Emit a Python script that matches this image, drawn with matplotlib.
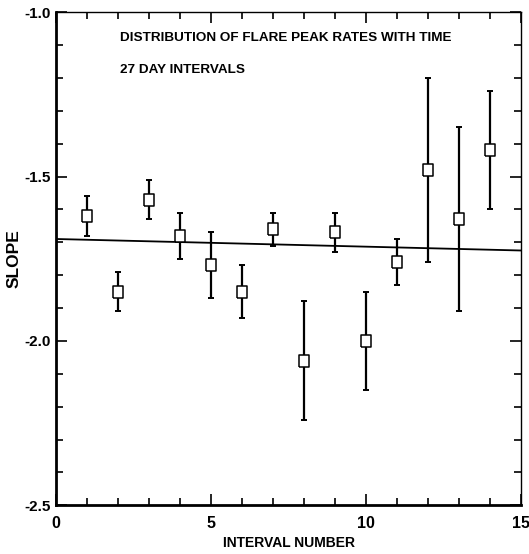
import matplotlib
matplotlib.use("Agg")
import matplotlib.pyplot as plt
import numpy as np
from matplotlib.ticker import MultipleLocator

# slope per 27-day interval with its error
interval = [1, 2, 3, 4, 5, 6, 7, 8, 9, 10, 11, 12, 13, 14]
slope = [-1.62, -1.85, -1.57, -1.68, -1.77, -1.85, -1.66, -2.06, -1.67, -2.00, -1.76, -1.48, -1.63, -1.42]
err = [0.06, 0.06, 0.06, 0.07, 0.10, 0.08, 0.05, 0.18, 0.06, 0.15, 0.07, 0.28, 0.28, 0.18]

# straight-line fit across the full range
fit_x = [0, 15]
fit_y = [-1.69, -1.725]

xticks = [0, 5, 10, 15]
yticks = [-2.5, -2.0, -1.5, -1.0]

font = ['Liberation Sans', 'DejaVu Sans']

# slightly tall open box used as the point marker
box = [(-0.4, -0.5), (0.4, -0.5), (0.4, 0.5), (-0.4, 0.5), (-0.4, -0.5)]

fig = plt.figure(figsize=(5.29, 5.54), dpi=100)
ax = fig.add_axes([0.106, 0.088, 0.879, 0.890])

ax.plot(fit_x, fit_y, color='black', lw=1.3)
ax.errorbar(interval, slope, yerr=err, fmt='none', ecolor='black',
            elinewidth=1.6, capsize=2.5, capthick=1.4, zorder=3)
ax.plot(interval, slope, ls='none', marker=box, ms=8.5, mfc='white',
        mec='black', mew=1.1, zorder=4)

ax.set_xlim(0, 15)
ax.set_ylim(-2.5, -1.0)
ax.xaxis.set_minor_locator(MultipleLocator(1))
ax.yaxis.set_minor_locator(MultipleLocator(0.1))
ax.tick_params(which='both', direction='in', top=True, right=True, width=1.2)
ax.tick_params(which='major', length=8)
ax.tick_params(which='minor', length=5)

ax.spines['left'].set_linewidth(2)
ax.spines['bottom'].set_linewidth(2)
ax.spines['top'].set_linewidth(1)
ax.spines['right'].set_linewidth(1)

ax.set_yticks(yticks)
ax.set_yticklabels(['%.1f' % v for v in yticks], family=font, fontweight='bold', fontsize=11)
ax.set_xticks(xticks)
ax.set_xticklabels([str(v) for v in xticks], family=font, fontweight='bold', fontsize=11.5)
ax.tick_params(axis='x', pad=8)
ax.tick_params(axis='y', pad=4)

ax.set_xlabel('INTERVAL NUMBER', family=font, fontweight='bold', fontsize=10)
ax.xaxis.set_label_coords(0.5, -0.063)
ax.set_ylabel('SLOPE', family=font, fontweight='bold', fontsize=12.5)
ax.yaxis.set_label_coords(-0.09, 0.5)
ax.yaxis.label.set_va('center')

ax.text(0.138, 0.947, 'DISTRIBUTION OF FLARE PEAK RATES WITH TIME', transform=ax.transAxes,
        family=font, fontweight='bold', fontsize=9.7, va='center', ha='left')
ax.text(0.138, 0.882, '27 DAY INTERVALS', transform=ax.transAxes,
        family=font, fontweight='bold', fontsize=9.7, va='center', ha='left')

fig.savefig('out.png', dpi=100)
